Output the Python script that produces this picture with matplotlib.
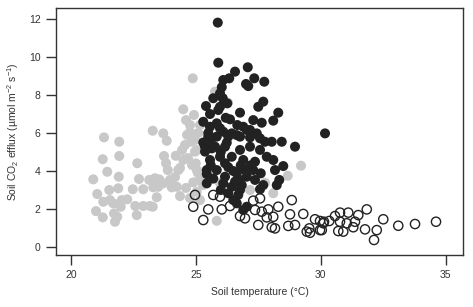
import matplotlib
matplotlib.use("Agg")
import matplotlib.pyplot as plt

plt.rcParams['font.family'] = ['Liberation Sans', 'DejaVu Sans']
plt.rcParams['mathtext.fontset'] = 'custom'
plt.rcParams['mathtext.rm'] = 'Liberation Sans'
plt.rcParams['mathtext.it'] = 'Liberation Sans:italic'

# Grey group (soil temperature °C, efflux)
grey_t = [21.33, 21.94, 21.28, 21.94, 21.46, 21.92, 20.90, 21.06, 21.54, 21.90,
          21.30, 21.01, 21.28, 21.73, 21.86, 21.77, 21.57, 21.70, 22.04, 22.26,
          22.00, 22.48, 22.66, 22.73, 22.90, 22.64, 22.58, 22.90, 23.17, 23.28,
          23.14, 23.37, 23.54, 23.50, 23.30, 23.70, 23.73, 23.81, 23.88, 23.97,
          24.04, 24.24, 24.30, 23.28, 23.70, 23.84, 23.44, 24.50, 24.93, 24.84,
          24.97, 25.04, 25.17, 24.88, 25.77, 26.29, 24.97, 25.04, 25.09, 25.17,
          25.04, 25.97, 24.37, 29.21, 28.68, 28.10, 27.77, 27.17, 25.84, 25.29,
          24.17, 24.77, 25.17, 24.61, 24.77, 24.57, 24.69, 24.50, 24.85, 24.61,
          24.77, 24.37, 25.10, 24.20, 24.65, 25.00, 24.45, 24.90]
grey_f = [5.77, 5.54, 4.62, 4.79, 3.96, 3.70, 3.56, 2.79, 3.00, 3.09,
          2.38, 1.89, 1.56, 1.77, 1.59, 1.33, 2.47, 2.30, 2.47, 2.51,
          2.12, 3.04, 4.41, 3.58, 3.04, 1.68, 2.16, 2.16, 2.16, 2.12,
          3.53, 3.62, 3.56, 3.17, 3.14, 3.35, 4.79, 4.41, 4.05, 3.53,
          3.14, 3.17, 4.05, 6.12, 5.98, 5.59, 2.62, 7.25, 6.95, 5.54,
          5.02, 4.05, 2.47, 8.88, 8.17, 7.59, 5.63, 5.10, 3.89, 3.53,
          2.91, 3.37, 4.16, 4.28, 3.75, 2.83, 3.38, 3.00, 1.38, 3.26,
          3.68, 6.42, 6.42, 6.68, 6.05, 5.37, 4.68, 4.58, 4.32, 3.11,
          2.58, 2.68, 6.00, 4.80, 5.90, 4.40, 5.10, 3.40]

# Black group
black_t = [25.88, 25.90, 26.57, 27.08, 27.34, 27.74, 27.01, 27.10, 26.34, 26.10,
           26.04, 25.97, 26.08, 25.70, 26.26, 25.41, 25.90, 27.70, 27.50, 26.77,
           28.30, 25.30, 26.37, 27.30, 27.64, 28.10, 26.66, 25.57, 25.97, 26.90,
           27.17, 26.44, 30.17, 25.84, 26.77, 27.17, 27.57, 28.04, 28.44, 28.97,
           25.37, 26.24, 25.64, 28.50, 28.17, 28.34, 28.24, 27.60, 27.37, 27.70,
           27.57, 27.30, 27.04, 26.77, 26.90, 27.37, 27.84, 27.57, 27.17, 27.44,
           27.77, 28.10, 25.50, 26.30, 26.64, 25.77, 26.17, 26.77, 25.37, 25.57,
           25.97, 26.44, 26.90, 25.44, 25.84, 26.17, 26.64, 26.97, 26.17, 25.44,
           26.10, 26.57, 26.44, 26.84, 26.30, 26.70, 26.50, 27.04, 26.77, 26.64,
           27.04, 25.57, 25.84, 26.10, 25.97, 25.44, 25.60, 25.50, 26.00, 26.30,
           25.70, 26.50, 26.20, 25.60, 26.80, 27.20, 26.00, 25.30]
black_f = [11.81, 9.70, 9.23, 9.46, 8.88, 8.70, 8.58, 8.47, 8.88, 8.79,
           8.41, 8.09, 7.83, 7.83, 7.56, 7.42, 7.21, 7.65, 7.38, 7.07,
           7.07, 6.59, 6.72, 6.68, 6.54, 6.65, 6.42, 6.33, 6.25, 6.33,
           6.16, 5.98, 5.98, 5.81, 5.81, 5.77, 5.72, 5.54, 5.54, 5.28,
           5.28, 5.49, 5.19, 4.26, 4.05, 3.53, 3.26, 3.88, 3.53, 3.26,
           3.04, 4.05, 3.70, 3.53, 1.95, 4.49, 4.75, 5.11, 5.28, 5.98,
           5.54, 4.58, 5.81, 5.81, 5.89, 5.28, 5.28, 5.11, 5.02, 4.58,
           4.75, 4.75, 4.58, 4.05, 4.05, 4.41, 3.88, 4.05, 3.70, 3.35,
           3.35, 3.44, 3.17, 3.26, 2.83, 2.74, 2.47, 2.12, 3.00, 2.30,
           6.16, 7.00, 6.51, 6.07, 7.38, 3.84, 5.60, 6.00, 5.00, 4.20,
           3.60, 4.00, 6.80, 4.30, 4.30, 4.30, 3.00, 5.50]

# Open-circle group
open_t = [24.97, 24.90, 25.30, 25.50, 26.04, 26.37, 25.70, 26.77, 26.97, 27.30,
          27.57, 27.37, 27.64, 27.90, 28.30, 27.84, 28.10, 27.50, 28.04, 28.17,
          28.84, 28.77, 28.70, 28.97, 29.30, 29.44, 29.54, 29.77, 29.97, 30.10,
          30.57, 30.77, 30.90, 31.04, 29.57, 29.97, 30.04, 30.13, 30.34, 30.77,
          30.70, 31.10, 31.30, 31.37, 31.50, 31.84, 31.77, 32.24, 32.13, 32.50,
          33.10, 33.77, 34.61, 25.97]
open_f = [2.74, 2.12, 1.42, 1.98, 1.98, 2.16, 2.74, 1.63, 1.51, 2.44,
          2.56, 1.95, 1.86, 1.98, 2.12, 1.56, 1.59, 1.16, 1.04, 0.98,
          2.47, 1.72, 1.11, 1.16, 1.74, 0.81, 0.98, 1.46, 0.89, 1.25,
          1.63, 1.81, 0.81, 1.25, 0.75, 1.37, 0.89, 1.33, 1.37, 1.33,
          0.84, 1.81, 1.04, 1.33, 1.68, 1.98, 0.93, 0.89, 0.37, 1.46,
          1.12, 1.21, 1.33, 2.65]

x_ticks = [20, 25, 30, 35]
y_ticks = [0, 2, 4, 6, 8, 10, 12]

txt = '#333333'
fig = plt.figure(figsize=(4.73, 3.07), dpi=100)
ax = fig.add_axes([0.1184, 0.1694, 0.8605, 0.8046])

ms = 52
ax.scatter(grey_t, grey_f, s=ms, c='#c8c8c8', edgecolors='none', zorder=2)
ax.scatter(open_t, open_f, s=ms * 0.85, facecolors='none', edgecolors='#222222',
           linewidths=1.0, zorder=3)
ax.scatter(black_t, black_f, s=ms, c='#222222', edgecolors='none', zorder=4)

ax.set_xlim(19.41, 35.69)
ax.set_ylim(-0.42, 12.58)
ax.set_xticks(x_ticks)
ax.set_yticks(y_ticks)
for sp in ax.spines.values():
    sp.set_color('#333333')
    sp.set_linewidth(1.0)
ax.tick_params(direction='out', length=7, width=1, color='#333333',
               labelsize=7.5, labelcolor=txt, pad=4)
ax.set_xlabel('Soil temperature (°C)', fontsize=7.5, color=txt, labelpad=5)
ax.set_ylabel(r'Soil CO$_2$ efflux (µmol m$^{-2}$ s$^{-1}$)', fontsize=7.5,
              color=txt, labelpad=6)

fig.savefig('out.png', dpi=100)
